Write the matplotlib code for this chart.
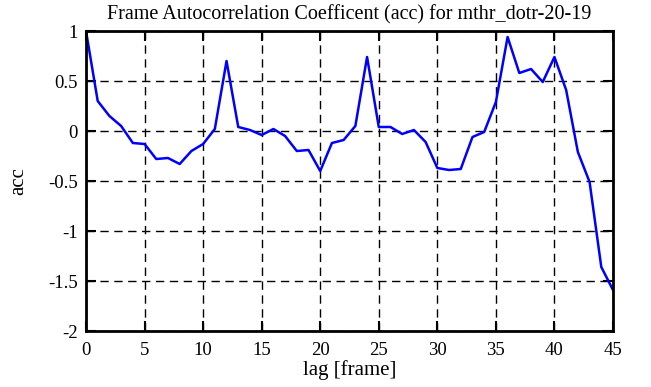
import numpy as np
import matplotlib.pyplot as plt

plt.rcParams['font.family'] = ['Liberation Serif', 'DejaVu Serif']

# lag values and autocorrelation coefficients
lag = list(range(46))
acc = [1.0, 0.3, 0.15, 0.05, -0.12, -0.13, -0.28, -0.27, -0.33, -0.2,
       -0.13, 0.02, 0.7, 0.04, 0.01, -0.04, 0.02, -0.05, -0.2, -0.19,
       -0.4, -0.12, -0.09, 0.05, 0.74, 0.04, 0.04, -0.03, 0.01, -0.11,
       -0.37, -0.39, -0.38, -0.06, -0.01, 0.29, 0.94, 0.58, 0.62, 0.49,
       0.74, 0.41, -0.21, -0.51, -1.36, -1.59]

xticks = [0, 5, 10, 15, 20, 25, 30, 35, 40, 45]
yticks = [-2, -1.5, -1, -0.5, 0, 0.5, 1]
yticklabels = ['-2', '-1.5', '-1', '-0.5', '0', '0.5', '1']

fig = plt.figure(figsize=(6.51, 3.87), dpi=100)
ax = fig.add_axes([86/651, 1-331/387, 527/651, 300/387])

ax.plot(lag, acc, color='#0000ff', linewidth=1.8)

ax.set_xlim(0, 45)
ax.set_ylim(-2, 1)
ax.set_xticks(xticks)
ax.set_yticks(yticks)
ax.set_yticklabels(yticklabels)
ax.grid(True, color='black', linestyle=(0, (6, 4)), linewidth=1.0)
ax.tick_params(direction='in', length=7, width=1.5, top=True, right=True,
               labelsize=13.5)
ax.tick_params(axis='x', pad=8)
ax.tick_params(axis='y', pad=6)
for s in ax.spines.values():
    s.set_linewidth(2.0)

ax.set_title('Frame Autocorrelation Coefficent (acc) for mthr_dotr-20-19',
             fontsize=14.5, pad=8)
ax.set_xlabel('lag [frame]', fontsize=15, labelpad=1)
ax.set_ylabel('acc', fontsize=15, labelpad=14)

fig.savefig('out.png', dpi=100)
